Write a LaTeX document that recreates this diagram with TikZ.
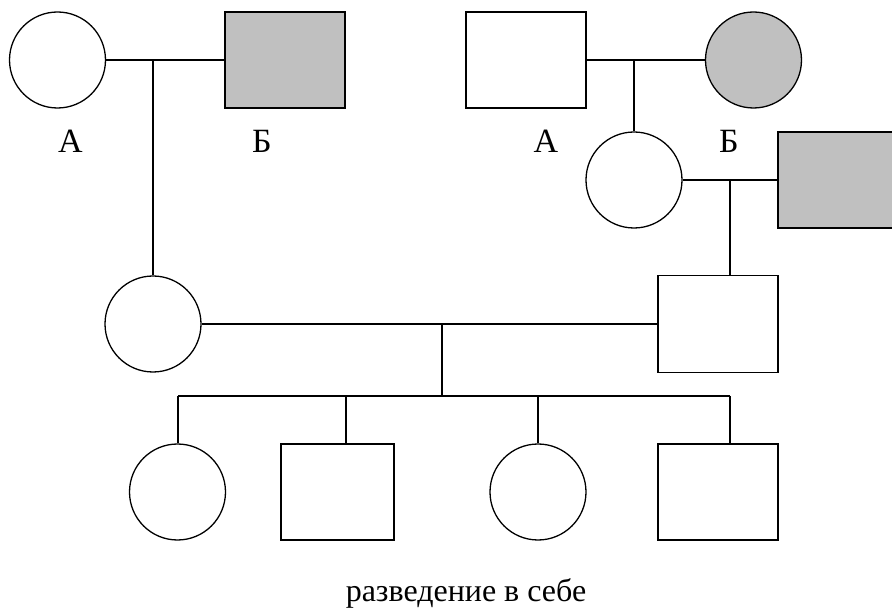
\documentclass[tikz,border=0pt]{standalone}
\usepackage{fontspec}
\setmainfont{Liberation Serif}
\definecolor{affc}{RGB}{192,192,192}
\begin{document}
\begin{tikzpicture}[x=1pt,y=-1pt,line width=1.3pt,
  fem/.style={draw,circle,minimum size=96pt,inner sep=0pt},
  mal/.style={draw,rectangle,minimum width=120pt,minimum height=96pt,inner sep=0pt},
  affected/.style={fill=affc},
  lbl/.style={font=\fontsize{34}{40}\selectfont,inner sep=0pt,anchor=base},
  captxt/.style={font=\fontsize{32}{38}\selectfont,inner sep=0pt,anchor=base}]
\useasboundingbox (0,0) rectangle (892,609);
\clip (0,0) rectangle (892,609);
% generation I, left
\node[fem] (a1) at (57.5,60) {};
\node[mal,affected] (b1) at (285,60) {};
\node[lbl] (la1) at (70.5,153) {А};
\node[lbl] (lb1) at (262,153) {Б};
% generation I, right
\node[mal] (a2) at (526,60) {};
\node[fem,affected] (b2) at (753.5,60) {};
\node[lbl] (la2) at (546,153) {А};
\node[lbl] (lb2) at (729,153) {Б};
% generation II right
\node[fem] (c2) at (634,180) {};
\node[mal,affected] (b3) at (838,180) {};
% generation III
\node[fem] (m) at (153,324) {};
\node[mal,minimum height=97pt] (p) at (718,324) {};
% children
\node[fem] (k1) at (177.5,492) {};
\node[mal,minimum width=113pt] (k2) at (337.5,492) {};
\node[fem] (k3) at (538,492) {};
\node[mal] (k4) at (718,492) {};
% junctions
\coordinate (j1) at (153,60);
\coordinate (j2) at (634,60);
\coordinate (j3) at (730,180);
\coordinate (j4) at (442,324);
\coordinate (d1) at (178,396);
\coordinate (d2) at (346,396);
\coordinate (d3) at (538,396);
\coordinate (d4) at (730,396);
\coordinate (dm) at (442,396);
% connectors
\draw (a1.east) -- (b1.west);
\draw (j1) -- (m.north);
\draw (a2.east) -- (b2.west);
\draw (j2) -- (c2.north);
\draw (c2.east) -- (b3.west);
\draw (j3) -- (j3 |- p.north);
\draw (m.east) -- (p.west);
\draw (j4) -- (dm);
\draw (d1) -- (d4);
\draw (d1) -- (d1 |- k1.north);
\draw (d2) -- (d2 |- k2.north);
\draw (d3) -- (d3 |- k3.north);
\draw (d4) -- (d4 |- k4.north);
% caption
\node[captxt] (cap) at (466,601) {разведение в себе};
\end{tikzpicture}
\end{document}
